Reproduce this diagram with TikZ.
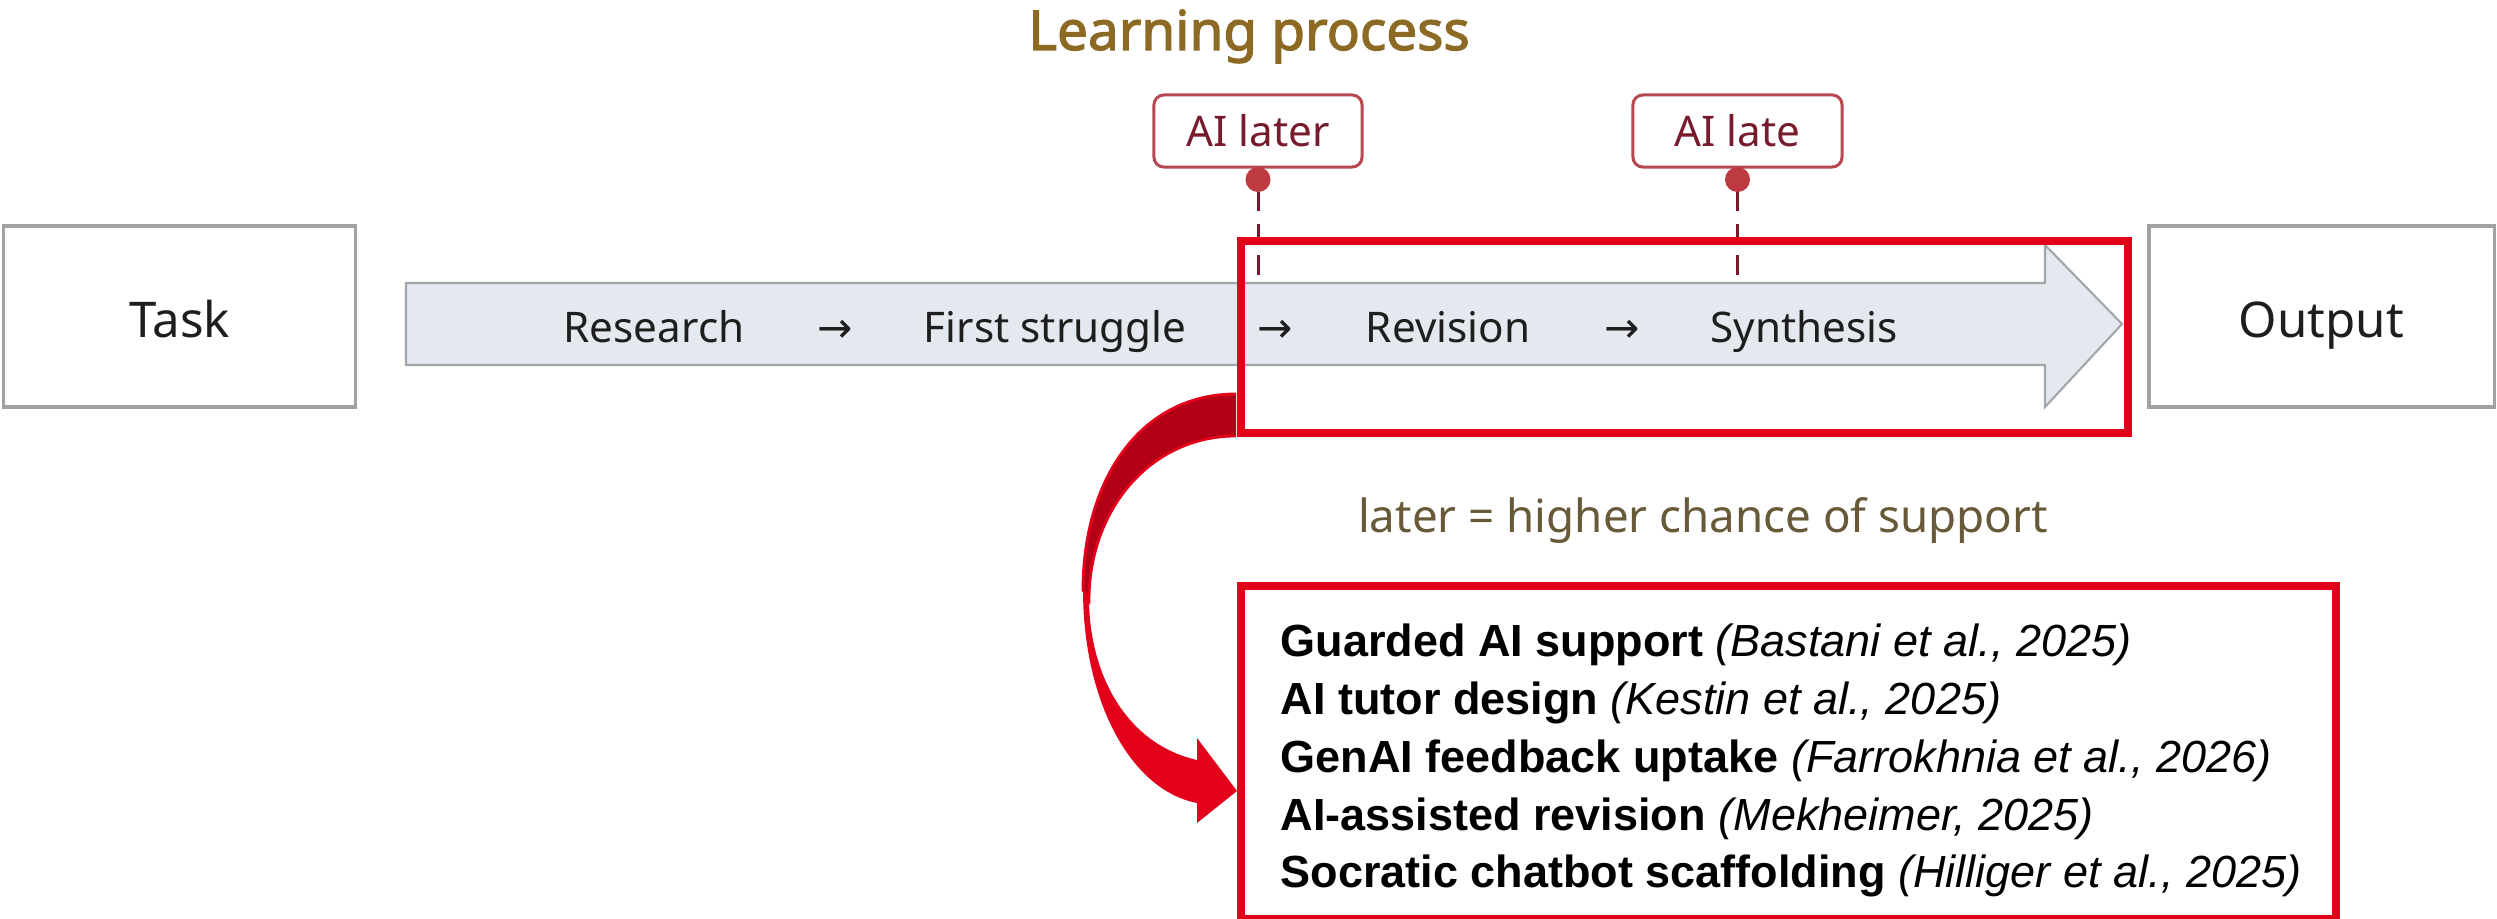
\documentclass[tikz,border=0pt]{standalone}
\usepackage{fontspec}
\setmainfont{Noto Sans}
\newfontfamily\titlefont[FakeBold=2.2]{Noto Sans}
\newfontfamily\citefont{Liberation Sans}
\newfontfamily\arrowglyph{DejaVu Sans}
\definecolor{hired}{RGB}{227,0,27}
\definecolor{hidark}{RGB}{178,0,22}
\definecolor{pinred}{RGB}{188,58,64}
\definecolor{tagborder}{RGB}{183,72,82}
\definecolor{tagtext}{RGB}{118,28,44}
\definecolor{titlegold}{RGB}{140,106,36}
\definecolor{olivetext}{RGB}{104,90,56}
\definecolor{arrowfill}{RGB}{228,233,240}
\definecolor{arrowline}{RGB}{162,167,173}
\definecolor{boxgray}{RGB}{162,162,162}
\definecolor{textdark}{RGB}{30,30,30}
\tikzset{
 plainbox/.style={draw=boxgray, line width=0.9pt, fill=white, inner sep=0pt, outer sep=0pt,
   font=\fontsize{14pt}{16pt}\selectfont, text=textdark, text height=12.2pt, text depth=0pt},
 tagbox/.style={draw=tagborder, line width=0.85pt, rounded corners=2.8pt, fill=white, inner sep=0pt,
   outer sep=0pt, minimum height=0.72cm, font=\fontsize{12pt}{14pt}\selectfont, text=tagtext,
   text height=9.1pt, text depth=0pt},
 pinball/.style={circle, fill=pinred, inner sep=0pt, outer sep=0pt, minimum size=0.25cm},
 pinline/.style={draw=tagtext, line width=0.85pt, dash pattern=on 5.5pt off 3.5pt},
 steplabel/.style={anchor=base, font=\fontsize{12pt}{14pt}\selectfont, text=textdark, inner sep=0pt},
 hlbox/.style={draw=hired, line width=2.3pt, inner sep=0pt, outer sep=0pt},
 citeline/.style={anchor=base west, inner sep=0pt, font=\citefont\fontsize{12.8pt}{15pt}\selectfont, text=black},
}
\begin{document}
\begin{tikzpicture}[x=0.01cm,y=-0.01cm]
\useasboundingbox[fill=white] (0,0) rectangle (2497,919);

% title
\node[anchor=base, inner sep=0pt, text=titlegold, font=\titlefont\fontsize{15.6pt}{17pt}\selectfont] (title) at (1249,50) {Learning process};

% side boxes
\node[plainbox, minimum width=3.51cm, minimum height=1.81cm] (task) at (179.5,316.5) {Task};
\node[plainbox, minimum width=3.45cm, minimum height=1.81cm] (output) at (2321.5,316.5) {Output};

% big process arrow
\draw[fill=arrowfill, draw=arrowline, line width=0.6pt]
  (406,283) -- (2045,283) -- (2045,245) -- (2122,324) -- (2045,407) -- (2045,365) -- (406,365) -- cycle;

% step labels
\node[steplabel] (s1) at (654,343) {Research};
\node[steplabel] (a1) at (835,343) {\arrowglyph →};
\node[steplabel] (s2) at (1055,343) {First struggle};
\node[steplabel] (a2) at (1275,343) {\arrowglyph →};
\node[steplabel] (s3) at (1448,343) {Revision};
\node[steplabel] (a3) at (1622,343) {\arrowglyph →};
\node[steplabel] (s4) at (1804,343) {Synthesis};

% AI tags with pins
\node[tagbox, minimum width=2.08cm] (tag1) at (1258,131) {AI later};
\node[pinball, anchor=north] (pin1) at (tag1.south) {};
\coordinate (d1) at (1258,283);
\draw[pinline] (pin1.south) -- (d1);

\node[tagbox, minimum width=2.09cm] (tag2) at (1737.5,131) {AI late};
\node[pinball, anchor=north] (pin2) at (tag2.south) {};
\coordinate (d2) at (1737.5,283);
\draw[pinline] (pin2.south) -- (d2);

% highlight box on the late phase
\node[hlbox, minimum width=8.87cm, minimum height=1.92cm] (hl1) at (1684.5,337) {};

% note
\node[anchor=base, inner sep=0pt, text=olivetext, font=\fontsize{13pt}{15pt}\selectfont] (note) at (1703,533) {later = higher chance of support};

% evidence box
\node[hlbox, fill=white, minimum width=10.95cm, minimum height=3.33cm] (hl2) at (1788.5,752.5) {};
\node[citeline] (c1) at (1280,657) {\textbf{Guarded AI support} \textit{(Bastani et al., 2025)}};
\node[citeline] (c2) at (1280,715) {\textbf{AI tutor design} \textit{(Kestin et al., 2025)}};
\node[citeline] (c3) at (1280,772) {\textbf{GenAI feedback uptake} \textit{(Farrokhnia et al., 2026)}};
\node[citeline] (c4) at (1280,830) {\textbf{AI-assisted revision} \textit{(Mekheimer, 2025)}};
\node[citeline] (c5) at (1280,887) {\textbf{Socratic chatbot scaffolding} \textit{(Hilliger et al., 2025)}};

% curved block arrow from hl1 to hl2
\fill[hidark] (1236,394) .. controls (1140,394) and (1083,480) .. (1083,590)
  -- (1089,600) .. controls (1089,510) and (1150,436) .. (1236,436) -- cycle;
\draw[hired, line width=0.8pt] (1236,394) .. controls (1140,394) and (1083,480) .. (1083,590)
  -- (1089,600) .. controls (1089,510) and (1150,436) .. (1236,436);
\fill[hired] (1083,590) .. controls (1083,700) and (1130,790) .. (1197,803)
  -- (1197,823) -- (1237,791) -- (1197,738) -- (1197,760)
  .. controls (1130,745) and (1090,680) .. (1089,600) -- cycle;
\end{tikzpicture}
\end{document}
